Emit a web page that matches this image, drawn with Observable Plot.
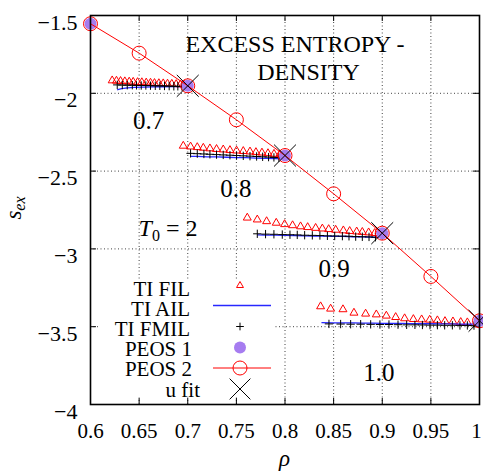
<!DOCTYPE html>
<html><head><meta charset="utf-8">
<script src="https://cdn.jsdelivr.net/npm/d3@7"></script>
<script src="https://cdn.jsdelivr.net/npm/@observablehq/plot@0.6"></script>
<style>body{margin:0;background:#fff;} svg{display:block}</style>
</head><body><div id="chart"></div>
<script>
// ---------- data ----------
const xTicks = [0.6,0.65,0.7,0.75,0.8,0.85,0.9,0.95];
const xLastTick = [1];
const yTicks = [-4,-3.5,-3,-2.5,-2,-1.5];
const xInner = [0.65,0.7,0.75,0.8,0.85,0.9,0.95];
const yInner = [-3.5,-3,-2.5,-2];

// PEOS 2 (red open circles + line)
const peos2Rho = [0.6,0.65,0.7,0.75,0.8,0.85,0.9,0.95,1.0];
const peos2S   = [-1.553,-1.742,-1.952,-2.170,-2.400,-2.646,-2.899,-3.177,-3.462];
// PEOS 1 (purple filled circles)
const peos1Rho = [0.6,0.7,0.8,0.9,1.0];
const peos1S   = [-1.553,-1.952,-2.400,-2.899,-3.462];
// u fit (crosses)
const ufitRho = [0.7,0.8,0.9,1.0];
const ufitS   = [-1.952,-2.400,-2.899,-3.462];

// TI FIL (red triangles), four density groups
const filRhoA = [0.6223,0.6267,0.6309,0.6353,0.6398,0.6439,0.6484,0.6528,0.6573,0.6617,0.6658,0.6703,0.6748,0.6792,0.6836,0.6881,0.6925,0.6968];
const filSA   = [-1.918,-1.920,-1.922,-1.924,-1.926,-1.927,-1.929,-1.930,-1.932,-1.933,-1.935,-1.936,-1.937,-1.939,-1.940,-1.942,-1.944,-1.946];
const filRhoB = [0.6954,0.7029,0.7098,0.7160,0.7228,0.7296,0.7365,0.7434,0.7502,0.7571,0.7640,0.7701,0.7763,0.7825,0.7887,0.7945];
const filSB   = [-2.338,-2.343,-2.347,-2.351,-2.355,-2.359,-2.362,-2.366,-2.369,-2.372,-2.375,-2.379,-2.382,-2.386,-2.390,-2.394];
const filRhoC = [0.7612,0.7715,0.7811,0.7910,0.7996,0.8078,0.8160,0.8233,0.8315,0.8384,0.8449,0.8521,0.8600,0.8665,0.8737,0.8795,0.8860,0.8922];
const filSC   = [-2.800,-2.812,-2.823,-2.833,-2.842,-2.849,-2.856,-2.861,-2.866,-2.870,-2.874,-2.878,-2.882,-2.886,-2.889,-2.892,-2.895,-2.899];
const filRhoD = [0.8366,0.8469,0.8596,0.8709,0.8829,0.8939,0.9042,0.9138,0.9230,0.9320,0.9405,0.9488,0.9567,0.9645,0.9727,0.9807,0.9875];
const filSD   = [-3.370,-3.385,-3.389,-3.411,-3.417,-3.422,-3.430,-3.439,-3.447,-3.452,-3.454,-3.456,-3.460,-3.465,-3.467,-3.471,-3.473];

// TI FMIL (black plus)
const fmilRhoA = [0.6275,0.6327,0.6378,0.6430,0.6473,0.6522,0.6569,0.6617,0.6666,0.6713,0.6761,0.6809,0.6857,0.6898,0.6940,0.6975];
const fmilSA   = [-1.946,-1.947,-1.948,-1.948,-1.949,-1.950,-1.950,-1.951,-1.952,-1.952,-1.953,-1.954,-1.955,-1.955,-1.956,-1.957];
const fmilRhoB = [0.7029,0.7098,0.7166,0.7228,0.7296,0.7365,0.7434,0.7502,0.7571,0.7640,0.7708,0.7770,0.7831,0.7886,0.7937];
const fmilSB   = [-2.386,-2.388,-2.390,-2.392,-2.394,-2.396,-2.398,-2.400,-2.402,-2.404,-2.406,-2.408,-2.410,-2.412,-2.414];
const fmilRhoC = [0.7715,0.7800,0.7886,0.7972,0.8051,0.8126,0.8202,0.8281,0.8359,0.8436,0.8511,0.8590,0.8658,0.8727,0.8795,0.8864,0.8930];
const fmilSC   = [-2.903,-2.905,-2.906,-2.908,-2.909,-2.910,-2.912,-2.913,-2.914,-2.916,-2.917,-2.918,-2.919,-2.921,-2.922,-2.923,-2.925];
const fmilRhoD = [0.8452,0.8572,0.8675,0.8778,0.8881,0.8976,0.9069,0.9162,0.9251,0.9336,0.9413,0.9491,0.9567,0.9642,0.9721,0.9799,0.9875,0.9943];
const fmilSD   = [-3.482,-3.483,-3.484,-3.484,-3.485,-3.486,-3.486,-3.487,-3.488,-3.488,-3.489,-3.490,-3.490,-3.491,-3.491,-3.492,-3.492,-3.493];

// TI AIL (blue lines)
const ailRhoA = [0.628,0.632,0.638,0.645,0.655,0.665,0.675,0.685,0.695,0.700];
const ailSA   = [-1.977,-1.970,-1.965,-1.962,-1.960,-1.959,-1.958,-1.957,-1.957,-1.956];
const ailRhoB = [0.703,0.710,0.720,0.730,0.740,0.750,0.760,0.770,0.780,0.790,0.797];
const ailSB   = [-2.405,-2.406,-2.408,-2.409,-2.411,-2.413,-2.414,-2.416,-2.418,-2.420,-2.422];
const ailRhoC = [0.772,0.780,0.790,0.800,0.810,0.820,0.830,0.840,0.850,0.860,0.870,0.880,0.890,0.895];
const ailSC   = [-2.910,-2.911,-2.912,-2.913,-2.914,-2.916,-2.917,-2.918,-2.919,-2.920,-2.922,-2.923,-2.925,-2.926];
const ailRhoD = [0.838,0.850,0.860,0.870,0.880,0.890,0.900,0.910,0.920,0.930,0.940,0.950,0.960,0.970,0.980,0.990,1.000];
const ailSD   = [-3.474,-3.475,-3.475,-3.476,-3.477,-3.477,-3.478,-3.479,-3.479,-3.480,-3.481,-3.481,-3.482,-3.482,-3.483,-3.484,-3.484];

// annotation labels
const groupLabels = ["0.7","0.8","0.9","1.0"];
const groupLabelRho = [0.6597,0.7495,0.8505,0.8965];
const groupLabelS = [-2.181,-2.618,-3.126,-3.80];
const legendNames = ["TI FIL","TI AIL","TI FMIL","PEOS 1","PEOS 2","u fit"];

// ---------- build tables ----------
const zip = (rs, ss, g) => rs.map((r,i) => ({rho:r, s:ss[i], g}));
const fil = [...zip(filRhoA,filSA,"A"),...zip(filRhoB,filSB,"B"),...zip(filRhoC,filSC,"C"),...zip(filRhoD,filSD,"D")];
const fmil = [...zip(fmilRhoA,fmilSA,"A"),...zip(fmilRhoB,fmilSB,"B"),...zip(fmilRhoC,fmilSC,"C"),...zip(fmilRhoD,fmilSD,"D")];
const ail = [...zip(ailRhoA,ailSA,"A"),...zip(ailRhoB,ailSB,"B"),...zip(ailRhoC,ailSC,"C"),...zip(ailRhoD,ailSD,"D")];
const peos1 = zip(peos1Rho, peos1S, "p1");
const peos2 = zip(peos2Rho, peos2S, "p2");
const ufit = zip(ufitRho, ufitS, "u");
const labels = groupLabels.map((t,i) => ({t, rho:groupLabelRho[i], s:groupLabelS[i]}));

const W = 483, H = 471, mL = 90, mR = 4, mT = 15, mB = 67;
const fw = W - mL - mR, fh = H - mT - mB;
const FONT = "'Liberation Serif', 'DejaVu Serif', serif";
const RED = "#ff0000", BLUE = "#2828ff", PURPLE = "#a67cf0";
const fmtX = d => String(d);
const fmtY = d => (d < 0 ? "\u2212" : "") + String(Math.abs(d));

const chart = Plot.plot({
  width: W, height: H,
  marginLeft: mL, marginRight: mR, marginTop: mT, marginBottom: mB,
  x: {domain: [0.6, 1]},
  y: {domain: [-4, -1.5]},
  style: {fontFamily: FONT, fontSize: "21px", background: "white", color: "black", overflow: "visible"},
  marks: [
    Plot.gridX(xInner, {stroke: "#000", strokeOpacity: 0.75, strokeDasharray: "1,2.5"}),
    Plot.gridY(yInner, {stroke: "#000", strokeOpacity: 0.75, strokeDasharray: "1,2.5"}),
    Plot.tickX(xInner, {x: d => d, insetTop: fh - 6, stroke: "#000"}),
    Plot.tickX(xInner, {x: d => d, insetBottom: fh - 6, stroke: "#000"}),
    Plot.tickY(yInner, {y: d => d, insetRight: fw - 6, stroke: "#000"}),
    Plot.tickY(yInner, {y: d => d, insetLeft: fw - 6, stroke: "#000"}),
    Plot.axisX(xTicks, {tickSize: 0, tickPadding: 19, fontSize: 21, tickFormat: fmtX, label: null}),
    Plot.axisX(xLastTick, {tickSize: 0, tickPadding: 19, fontSize: 21, tickFormat: fmtX, label: null, dx: -3}),
    Plot.axisY(yTicks, {tickSize: 0, tickPadding: 13, dy: 7, fontSize: 22, tickFormat: fmtY, label: null}),
    Plot.dot(fil, {x: "rho", y: "s", symbol: "triangle2", r: 3.8, stroke: RED, fill: "none", strokeWidth: 1}),
    Plot.line(ail, {x: "rho", y: "s", z: "g", stroke: BLUE, strokeWidth: 1.3}),
    Plot.dot(fmil, {x: "rho", y: "s", symbol: "plus", r: 2.8, stroke: "#000", strokeWidth: 1}),
    Plot.dot(peos1, {x: "rho", y: "s", r: 6, fill: PURPLE, stroke: "none"}),
    Plot.line(peos2, {x: "rho", y: "s", stroke: RED, strokeWidth: 1}),
    Plot.dot(peos2, {x: "rho", y: "s", r: 7, stroke: RED, fill: "none", strokeWidth: 1}),
    Plot.dot(ufit, {x: "rho", y: "s", symbol: "times", r: 10, stroke: "#000", strokeWidth: 1}),
    Plot.text(labels, {x: "rho", y: "s", text: "t", fontSize: 25, fill: "#000"}),
    Plot.frame({stroke: "#000", strokeWidth: 1.6})
  ]
});
document.getElementById("chart").appendChild(chart);

// ---------- extra text & legend ----------
const svg = d3.select(chart);
const g = svg.append("g").attr("font-family", FONT).attr("fill", "#000");

// title
g.append("text").attr("x", 295).attr("y", 51.5).attr("text-anchor", "middle").attr("font-size", 24).text("EXCESS ENTROPY -");
g.append("text").attr("x", 308.5).attr("y", 80).attr("text-anchor", "middle").attr("font-size", 24).text("DENSITY");

// T0 = 2
const t0 = g.append("text").attr("x", 168).attr("y", 236).attr("font-size", 24);
t0.append("tspan").attr("font-style", "italic").text("T");
t0.append("tspan").attr("font-size", 16).attr("dy", 5).text("0");
t0.append("tspan").attr("dy", -5).text(" = 2");

// axis labels
g.append("text").attr("x", mL + fw / 2).attr("y", 466).attr("text-anchor", "middle").attr("font-size", 23).attr("font-style", "italic").text("\u03C1");
const yl = g.append("text").attr("transform", "translate(21,208) rotate(-90)").attr("text-anchor", "middle").attr("font-size", 23).attr("font-style", "italic");
yl.append("tspan").text("s");
yl.append("tspan").attr("font-size", 16).attr("dy", 4).text("ex");

// legend (opaque key)
const lg = svg.append("g");
lg.append("rect").attr("x", 100).attr("y", 279).attr("width", 173).attr("height", 118).attr("fill", "white");
const textBase = [296, 316, 336, 356, 376, 397];
const textRight = [190, 190, 190, 192, 192, 200];
legendNames.forEach((n, i) => {
  lg.append("text").attr("x", textRight[i]).attr("y", textBase[i]).attr("text-anchor", "end")
    .attr("font-family", FONT).attr("font-size", 21).attr("fill", "#000").text(n);
});
const mx = 240;
lg.append("path").attr("d", d3.symbol(d3.symbolTriangle2, Math.PI * 3.3 * 3.3)()).attr("transform", `translate(${mx},285.5)`).attr("fill", "none").attr("stroke", RED);
lg.append("line").attr("x1", 213).attr("x2", 271).attr("y1", 305.5).attr("y2", 305.5).attr("stroke", BLUE).attr("stroke-width", 1.3);
lg.append("path").attr("d", d3.symbol(d3.symbolPlus, Math.PI * 2.6 * 2.6)()).attr("transform", `translate(${mx},326.5)`).attr("fill", "none").attr("stroke", "#000");
lg.append("circle").attr("cx", mx).attr("cy", 347.5).attr("r", 6).attr("fill", PURPLE);
lg.append("line").attr("x1", 213).attr("x2", 271).attr("y1", 368).attr("y2", 368).attr("stroke", RED);
lg.append("circle").attr("cx", mx).attr("cy", 368).attr("r", 7).attr("fill", "none").attr("stroke", RED);
lg.append("path").attr("d", d3.symbol(d3.symbolTimes, Math.PI * 9.5 * 9.5)()).attr("transform", `translate(${mx},389)`).attr("fill", "none").attr("stroke", "#000");
</script>
</body></html>
